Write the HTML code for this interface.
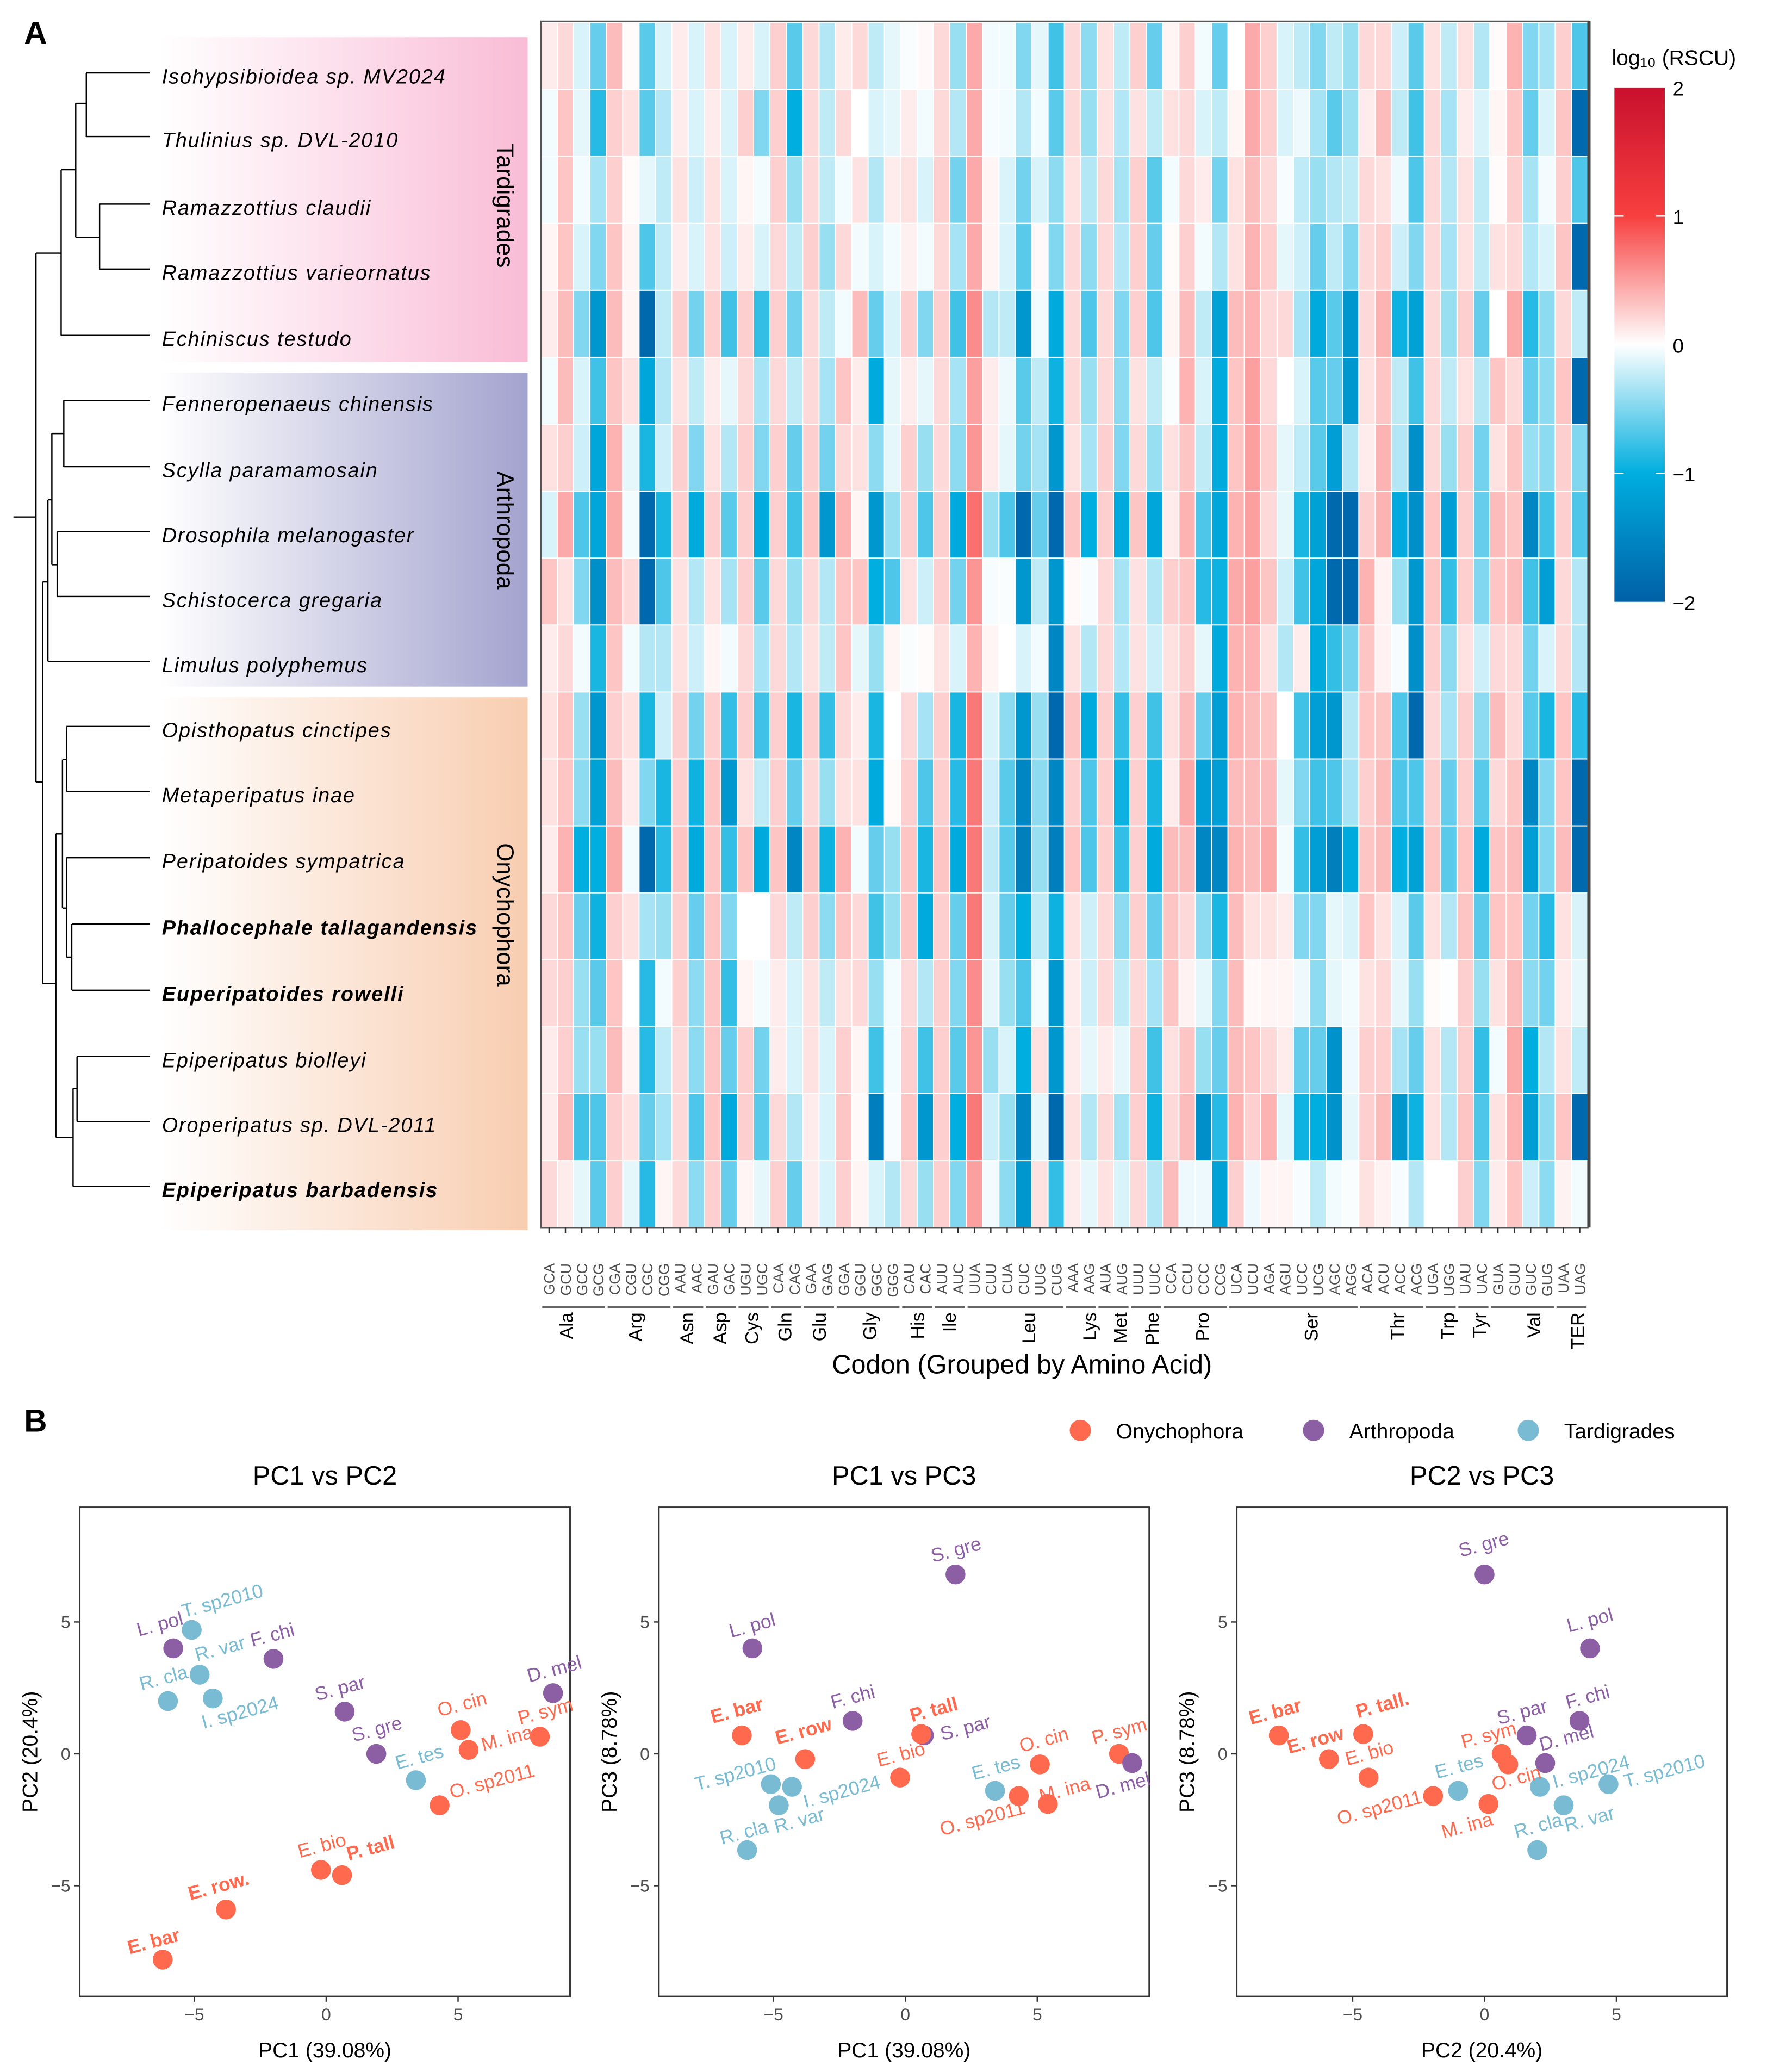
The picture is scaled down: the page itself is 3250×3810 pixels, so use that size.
<!DOCTYPE html>
<html><head><meta charset="utf-8"><title>RSCU heatmap and PCA</title>
<style>
html,body{margin:0;padding:0;background:#fff;}
svg{display:block;font-family:"Liberation Sans",Arial,sans-serif;}
</style></head>
<body>
<svg id="fig" xmlns="http://www.w3.org/2000/svg" width="3250" height="3810" viewBox="0 0 1333 1563">
<defs>
<linearGradient id="gTar" x1="0" x2="1" y1="0" y2="0"><stop offset="0" stop-color="#fbc0d8" stop-opacity="0"/><stop offset="1" stop-color="#f9bcd6"/></linearGradient>
<linearGradient id="gArt" x1="0" x2="1" y1="0" y2="0"><stop offset="0" stop-color="#a5a5d0" stop-opacity="0"/><stop offset="1" stop-color="#a3a3cf"/></linearGradient>
<linearGradient id="gOny" x1="0" x2="1" y1="0" y2="0"><stop offset="0" stop-color="#f8cdb0" stop-opacity="0"/><stop offset="1" stop-color="#f8cdb0"/></linearGradient>
<linearGradient id="gBar" x1="0" x2="0" y1="0" y2="1"><stop offset="0" stop-color="#c8102e"/><stop offset="0.25" stop-color="#f7403f"/><stop offset="0.5" stop-color="#ffffff"/><stop offset="0.75" stop-color="#00aedf"/><stop offset="1" stop-color="#0060a6"/></linearGradient>
</defs>
<text x="18" y="33" font-size="24" font-weight="bold">A</text>
<text x="18" y="1080" font-size="24" font-weight="bold">B</text>
<g id="bands"></g>
<g id="tree" stroke="#000" stroke-width="1"></g>
<g id="species"></g>
<g id="heat"></g>
<g id="xaxis"></g>
<g id="cbar"></g>
<g id="pca"></g>
</svg>
<script>
const NS="http://www.w3.org/2000/svg";
function mk(parent,tag,attrs,text){const e=document.createElementNS(NS,tag);for(const k in attrs)e.setAttribute(k,attrs[k]);if(text!==undefined)e.textContent=text;parent.appendChild(e);return e;}

// ===== Heatmap data =====
const species=["Isohypsibioidea sp. MV2024","Thulinius sp. DVL-2010","Ramazzottius claudii","Ramazzottius varieornatus","Echiniscus testudo","Fenneropenaeus chinensis","Scylla paramamosain","Drosophila melanogaster","Schistocerca gregaria","Limulus polyphemus","Opisthopatus cinctipes","Metaperipatus inae","Peripatoides sympatrica","Phallocephale tallagandensis","Euperipatoides rowelli","Epiperipatus biolleyi","Oroperipatus sp. DVL-2011","Epiperipatus barbadensis"];
const boldSpecies=[13,14,17];
const codons=["GCA","GCU","GCC","GCG","CGA","CGU","CGC","CGG","AAU","AAC","GAU","GAC","UGU","UGC","CAA","CAG","GAA","GAG","GGA","GGU","GGC","GGG","CAU","CAC","AUU","AUC","UUA","CUU","CUA","CUC","UUG","CUG","AAA","AAG","AUA","AUG","UUU","UUC","CCA","CCU","CCC","CCG","UCA","UCU","AGA","AGU","UCC","UCG","AGC","AGG","ACA","ACU","ACC","ACG","UGA","UGG","UAU","UAC","GUA","GUU","GUC","GUG","UAA","UAG"];
const aminoAcids=["Ala","Arg","Asn","Asp","Cys","Gln","Glu","Gly","His","Ile","Leu","Lys","Met","Phe","Pro","Ser","Thr","Trp","Tyr","Val","TER"];
const aaStart=[0,4,8,10,12,14,16,18,22,24,26,32,34,36,38,42,50,54,56,58,62];
const aaEnd=[3,7,9,11,13,15,17,21,23,25,31,33,35,37,41,49,53,55,57,61,63];
const aaLabelX=[427,479,518,543,567,592,618,656,692,716,776,822,845,869,907,989,1054,1092,1116,1157,1190];
// values per codon (18 species each), log10(RSCU)
const heatValues=[
[.1,-.05,-.05,.05,.1,-.05,.15,-.15,.3,.1,.15,.15,.1,.2,.2,.1,.1,.2],
[.2,.3,.3,.3,.35,.35,.25,.45,.15,.2,.3,.3,.4,.3,.25,.25,.35,.1],
[-.15,-.1,-.05,-.15,-.5,-.15,-.2,-.7,-.5,-.05,-.4,-.45,-1,-.6,-.4,-.4,-.75,-.1],
[-.6,-.85,-.35,-.5,-1.3,-.75,-1.1,-1.1,-1.4,-.9,-1.3,-1.15,-1,-.95,-.65,-.4,-.7,-.65],
[.35,.25,.25,.3,.35,.3,.4,.45,.35,.3,.25,.35,.45,.25,.3,.35,.25,.25],
[.02,.15,.02,.05,.05,.15,-.1,-.05,.2,-.05,.15,.1,-.05,.15,0,.05,.15,-.1],
[-.65,-.65,-.1,-.7,-1.9,-1.1,-.9,-1.9,-1.9,-.3,-.9,-.5,-1.9,-.35,-.85,-.85,-.6,-.85],
[-.15,-.3,-.25,-.25,-.25,-.3,-.2,-.9,-.7,-.3,-.2,-.9,-.85,-.4,-.05,-.25,-.35,.05],
[.1,.1,.15,.1,.25,.15,.25,.25,.15,.15,.25,.25,.3,.25,.25,.2,.2,.2],
[-.15,-.15,-.2,-.15,-.55,-.25,-.5,-1.05,-.3,-.2,-.55,-.95,-1.05,-.6,-.45,-.45,-.7,-.45],
[.15,.1,.15,.15,.25,.1,.15,.25,.15,.05,.25,.3,.3,.3,.3,.3,.3,.25],
[-.15,-.15,-.15,-.2,-.75,-.1,-.3,-.65,-.35,-.05,-.8,-1.3,-.8,-.5,-.8,-.6,-1.05,-.6],
[.1,.25,.05,.1,.25,.2,.25,.25,.25,.2,.25,.15,.3,0,.05,.25,.25,.05],
[-.15,-.5,-.05,-.15,-.8,-.35,-.5,-1.05,-.65,-.35,-.75,-.25,-1.05,0,-.05,-.55,-.65,-.1],
[.25,.25,.25,.2,.25,.2,.25,.25,.2,.2,.25,.25,.3,.2,.1,.1,.2,.25],
[-.65,-1,-.4,-.25,-.55,-.25,-.6,-.75,-.4,-.3,-.9,-.6,-1.5,-.25,-.15,-.15,-.3,-.6],
[.2,.2,.2,.25,.2,.2,.25,.3,.2,.15,.25,.2,.3,.25,.15,.15,.1,.1],
[-.3,-.25,-.25,-.4,-.25,-.35,-.55,-1.3,-.3,-.25,-.8,-.4,-.95,-.45,-.25,-.15,-.15,-.15],
[.1,.2,-.05,.2,-.05,.3,.2,.4,.3,.3,.2,.15,.4,.3,.15,.25,.3,.25],
[.2,0,.15,-.05,.35,.1,.15,.05,.3,-.1,.1,.15,-.05,.2,.2,.05,.03,.05],
[-.25,-.15,-.3,-.15,-.6,-1.05,-.45,-1.3,-1,-.4,-.9,-1.05,-.6,-.75,-.4,-.75,-1.6,-.15],
[-.1,-.1,.1,-.05,-.15,-.1,-.1,-.4,-.7,.05,0,.02,-.4,-.4,-.05,-.05,-.03,-.3],
[-.02,.1,.15,.08,.25,.1,.25,.25,.15,-.02,.2,.25,.3,.3,.2,.25,.3,.2],
[.03,-.05,-.15,-.05,-.5,-.1,-.4,-.7,-.2,.02,-.35,-.7,-.9,-1.05,-.3,-.75,-1.3,-.4],
[.2,.2,.25,.2,.25,.2,.2,.25,.25,.15,.25,.25,.3,.25,.25,.25,.25,.25],
[-.4,-.3,-.55,-.35,-.75,-.35,-.45,-1.05,-.55,-.15,-.9,-.85,-1.05,-.6,-.5,-.65,-1,-.5],
[.45,.45,.45,.45,.6,.5,.55,.75,.55,.4,.7,.7,.7,.7,.6,.55,.7,.5],
[-.05,-.03,.05,.05,-.3,.1,.1,-.4,-.03,.05,-.15,-.2,-.25,-.15,-.1,-.4,-.2,-.05],
[-.05,-.05,-.15,-.15,-.25,-.07,-.1,-.7,-.02,0,-.45,-.65,-.65,-.6,-.4,-.15,-.4,-.45],
[-.5,-.3,-.55,-.65,-1.3,-.65,-.55,-1.9,-1.3,-.15,-1.3,-1.5,-1.6,-1,-.7,-1,-1.5,-1.3],
[-.1,-.05,-.15,.03,-.05,-.25,-.35,-.6,-.25,-.05,-.4,-.45,-.4,-.25,-.05,.15,-.1,.15],
[-.75,-.65,-.45,-.5,-1.05,-.95,-1.3,-1.9,-1.3,-1.5,-1.9,-1.5,-1.6,-.95,-1.3,-1.3,-1.9,-.8],
[.2,.2,.15,.2,.2,.2,.15,.3,.03,.15,.3,.25,.3,.15,.1,.1,.15,.1],
[-.45,-.4,-.3,-.45,-.7,-.4,-.35,-1,-.03,-.3,-1.05,-.7,-.7,-.2,-.2,-.1,-.3,-.1],
[.15,.15,.2,.2,.2,.2,.25,.25,.2,.2,.25,.25,.25,.2,.2,.1,.2,.15],
[-.25,-.3,-.35,-.3,-.5,-.45,-.5,-1.05,-.35,-.3,-.8,-.95,-.8,-.45,-.25,-.1,-.35,-.15],
[.25,.15,.25,.25,.25,.15,.2,.3,.15,.15,.25,.25,.25,.25,.2,.25,.25,.2],
[-.6,-.25,-.65,-.6,-.7,-.25,-.4,-1.1,-.3,-.2,-.75,-.9,-1.05,-.6,-.35,-.75,-.95,-.3],
[.05,.15,-.05,.02,.05,-.02,.15,.1,.25,.15,.15,.1,.35,.3,.3,.15,.2,.35],
[.25,.2,.2,.25,.35,.4,.3,.4,.3,.25,.35,.45,.35,.2,.07,.3,.35,-.07],
[-.05,-.15,.1,-.05,-.25,-.15,-.25,-.7,-.85,-.1,-.6,-1.2,-1.5,-.45,-.1,-.4,-1.4,-.07],
[-.6,-.25,-.55,-.3,-1.15,-1.05,-1.05,-1.1,-.95,-1.05,-1.2,-1.2,-1.5,-.9,-.5,-.6,-.85,-1.15],
[0,.05,.15,.15,.35,.3,.3,.4,.45,.4,.4,.35,.4,.35,.35,.35,.4,.25],
[.45,.45,.35,.4,.4,.5,.5,.5,.5,.4,.35,.35,.35,.15,.03,.3,.25,-.07],
[.25,.25,.2,.25,.2,.2,.25,.2,.3,.15,.3,.35,.45,.15,.05,.2,.4,.05],
[-.15,-.15,-.03,-.1,.2,0,-.1,-.1,-.2,-.3,0,-.1,-.05,.1,.05,.1,-.1,.05],
[-.25,-.07,-.25,-.2,-.35,-.15,-.25,-.9,-.75,.1,-.75,-.5,-.8,-.5,-.07,-.6,-.95,-.03],
[-.5,-.35,-.4,-.6,-1.05,-.65,-.65,-1.15,-1.1,-1.05,-1.2,-.75,-1.2,-.5,-.45,-.6,-1,-.25],
[-.25,-.65,-.3,-.25,-.65,-.6,-1.2,-1.9,-1.9,-.8,-1.3,-.7,-1.6,-.1,-.1,-1.35,-1.35,-.05],
[-.4,-.4,-.25,-.5,-1.3,-1.3,-.3,-1.9,-1.9,-.55,-.3,-.35,-1.05,-.15,-.05,-.07,-.1,-.02],
[.2,.1,.2,.2,.2,.15,.1,.25,.4,.3,.3,.25,.3,.3,.15,.25,.25,.15],
[.2,.35,.15,.25,.4,.3,.4,.4,.07,.07,.3,.35,.35,.15,.2,.25,.35,.07],
[-.2,-.25,-.07,-.2,-.95,-.25,-.3,-1.05,-.4,-.03,-.7,-.7,-1,-.15,-.1,-.35,-1.3,-.03],
[-.65,-.75,-.7,-.5,-1.15,-.75,-1.4,-1.4,-1.3,-1.4,-1.9,-.7,-1.15,-.65,-.4,-.6,-.95,-.3],
[.15,.2,.2,.2,.2,.2,.2,.3,.3,.25,.2,.25,.3,.15,.02,.15,.15,0],
[-.25,-.35,-.3,-.35,-.4,-.25,-.4,-1.2,-.8,-.45,-.35,-.6,-.65,-.3,-.01,-.3,-.3,0],
[.15,.1,.15,.15,.25,.15,.25,.25,.25,.15,.25,.25,.3,.3,.25,.25,.3,.25],
[-.3,-.15,-.25,-.25,-.6,-.3,-.55,-.6,-.5,-.2,-.45,-.65,-1.05,-.65,-.4,-.8,-.7,-.5],
[.02,.05,.02,.15,0,.3,.15,.35,.3,.2,.35,.2,.3,.3,.15,-.05,.15,.1],
[.4,.3,.25,.2,.45,.2,.3,.3,.35,.2,.2,.3,.35,.3,.35,.45,.4,.3],
[-.5,-.6,-.35,-.3,-.85,-.6,-.4,-1.5,-.75,-.55,-.65,-1.5,-1.2,-.55,-.45,-1,-1.2,-.2],
[-.35,-.15,-.05,-.15,-.45,-.45,-.45,-.75,-1.2,-.15,-.9,-.5,-.5,-.85,-.55,-.3,-.45,-.45],
[.25,.3,.25,.3,.2,.3,.25,.25,.2,.2,.3,.3,.35,.15,.1,.15,.3,.07],
[-.7,-1.9,-.7,-1.9,-.25,-1.9,-.5,-.7,-.3,-.3,-.85,-1.9,-1.9,-.15,-.1,-.25,-1.9,-.05]
];
const cbarTicks=[2,1,0,-1,-2];
const cbarTickLabels=["2","1","0","\u22121","\u22122"];

// ===== PCA data =====
const pcaNames=["L. pol","T. sp2010","R. var","F. chi","R. cla","I. sp2024","S. par","S. gre","E. tes","O. cin","M. ina","P. sym","D. mel","O. sp2011","E. bio","P. tall","E. row","E. bar"];
const pcaGroups=["Arthropoda","Tardigrades","Tardigrades","Arthropoda","Tardigrades","Tardigrades","Arthropoda","Arthropoda","Tardigrades","Onychophora","Onychophora","Onychophora","Arthropoda","Onychophora","Onychophora","Onychophora","Onychophora","Onychophora"];
const pcaBold=[0,0,0,0,0,0,0,0,0,0,0,0,0,0,0,1,1,1];
const pc1=[-5.8,-5.1,-4.8,-2.0,-6.0,-4.3,0.7,1.9,3.4,5.1,5.4,8.1,8.6,4.3,-0.2,0.6,-3.8,-6.2];
const pc2=[4.0,4.7,3.0,3.6,2.0,2.1,1.6,0.0,-1.0,0.9,0.15,0.65,2.3,-1.95,-4.4,-4.6,-5.9,-7.8];
const pc3=[4.0,-1.15,-1.95,1.25,-3.65,-1.25,0.7,6.8,-1.4,-0.4,-1.9,0.0,-0.35,-1.6,-0.9,0.75,-0.2,0.7];
const axisTicks=[-5,0,5];
const groupNames=["Onychophora","Arthropoda","Tardigrades"];
const groupColors={Onychophora:"#ff6a4f",Arthropoda:"#8c5fa5",Tardigrades:"#79bbd2"};

const svg=document.getElementById('fig');

// ===== Group bands =====
const bands=document.getElementById('bands');
const bandDefs=[["Tardigrades",28,273,"url(#gTar)",155],["Arthropoda",281,518,"url(#gArt)",400],["Onychophora",526,928,"url(#gOny)",690]];
bandDefs.forEach(b=>{
  const r=mk(bands,'rect',{x:120,y:b[1],width:278,height:b[2]-b[1],fill:b[3]});
  
  
  const t=mk(bands,'text',{x:0,y:0,'font-size':18,'text-anchor':'middle',transform:`translate(375,${b[4]}) rotate(90)`},b[0]);
  
  
});

// ===== Dendrogram =====
const tree=document.getElementById('tree');
const segs=[[10,390,27,390],[27,191,27,590],[27,191,46,191],[46,128,46,253],[46,253,113,253],[46,128,57,128],[57,78,57,179],[57,78,65,78],[65,55,65,103],[65,55,113,55],[65,103,113,103],[57,179,75,179],[75,154,75,203],[75,154,113,154],[75,203,113,203],
[27,590,32,590],[32,439,32,742],[32,439,36,439],[36,377,36,499],[36,499,113,499],[36,377,39,377],[39,327,39,426],[39,327,48,327],[48,302,48,352],[48,302,113,302],[48,352,113,352],[39,426,43,426],[43,401,43,450],[43,401,113,401],[43,450,113,450],
[32,742,42,742],[42,629,42,858],[42,629,47,629],[47,573,47,685],[47,573,50,573],[50,548,50,597],[50,548,113,548],[50,597,113,597],[47,685,50,685],[50,647,50,722],[50,647,113,647],[50,722,54,722],[54,697,54,747],[54,697,113,697],[54,747,113,747],
[42,858,55,858],[55,821,55,895],[55,895,113,895],[55,821,58,821],[58,797,58,846],[58,797,113,797],[58,846,113,846]];
segs.forEach(s=>{const l=mk(tree,'line',{x1:s[0],y1:s[1],x2:s[2],y2:s[3]});
  
  });
const tipY=[55,103,154,203,253,302,352,401,450,499,548,597,647,697,747,797,846,895];
const spG=document.getElementById('species');
species.forEach((s,i)=>{
  const t=mk(spG,'text',{x:122,y:tipY[i]+8,'font-size':15.5,'letter-spacing':0.8,'font-style':'italic','font-weight':boldSpecies.includes(i)?'bold':'normal'},s);
  
  
});

// ===== Heatmap =====
const HX0=408,HX1=1198,HY0=17,HY1=926;
const cw=(HX1-HX0)/codons.length, rh=(HY1-HY0)/species.length;
const xCol=i=>HX0+i*cw, yRow=j=>HY0+j*rh;
const stops=[[-2,[0,96,166]],[-1,[0,174,223]],[0,[255,255,255]],[1,[247,64,63]],[2,[200,16,46]]];
function colorOf(v){v=Math.max(-2,Math.min(2,v));for(let k=0;k<stops.length-1;k++){const a=stops[k],b=stops[k+1];if(v<=b[0]){const t=(v-a[0])/(b[0]-a[0]);const c=a[1].map((x,i)=>Math.round(x+(b[1][i]-x)*t));return `rgb(${c[0]},${c[1]},${c[2]})`;}}return 'rgb(200,16,46)';}
const heat=document.getElementById('heat');
heatValues.forEach((col,i)=>{col.forEach((v,j)=>{
  const r=mk(heat,'rect',{x:xCol(i),y:yRow(j),width:cw,height:rh,fill:colorOf(v),stroke:'#fff','stroke-width':0.8});
  
  
});});
const border=mk(heat,'rect',{x:HX0,y:HY0-1,width:HX1-HX0,height:HY1-HY0+1,fill:'none',stroke:'#555','stroke-width':1});


const rb=mk(heat,'line',{x1:HX1+1,y1:HY0-1,x2:HX1+1,y2:HY1,stroke:'#444','stroke-width':2});



// x axis
const xa=document.getElementById('xaxis');
codons.forEach((c,i)=>{
  const cx=xCol(i)+cw/2;
  const tk=mk(xa,'line',{x1:cx,y1:HY1,x2:cx,y2:HY1+4,stroke:'#333','stroke-width':1});
  
  
  const t=mk(xa,'text',{x:0,y:0,'font-size':11,fill:'#4d4d4d','text-anchor':'end',transform:`translate(${cx+4},953) rotate(-90)`},c);
  
  
});
aminoAcids.forEach((a,k)=>{
  const ln=mk(xa,'line',{x1:xCol(aaStart[k])+1,y1:986,x2:xCol(aaEnd[k]+1)-1,y2:986,stroke:'#333','stroke-width':1});
  
  
  const t=mk(xa,'text',{x:0,y:0,'font-size':14,'text-anchor':'end',transform:`translate(${aaLabelX[k]+5},990) rotate(-90)`},a);
  
  
});
const xt=mk(xa,'text',{x:771,y:1036,'font-size':20,'text-anchor':'middle'},'Codon (Grouped by Amino Acid)');



// colorbar
const cb=document.getElementById('cbar');
const CBY0=66,CBY1=454;
const cbY=v=>CBY0+(2-v)/4*(CBY1-CBY0);
const ct=mk(cb,'text',{x:1216,y:49,'font-size':16},'log\u2081\u2080 (RSCU)');


const cr=mk(cb,'rect',{x:1218,y:CBY0,width:38,height:CBY1-CBY0,fill:'url(#gBar)'});


cbarTicks.forEach((v,k)=>{
  const y=cbY(v);
  if(k>0&&k<cbarTicks.length-1){
    const a=mk(cb,'line',{x1:1218,y1:y,x2:1225,y2:y,stroke:'#fff','stroke-width':1});
    
    
    const b=mk(cb,'line',{x1:1249,y1:y,x2:1256,y2:y,stroke:'#fff','stroke-width':1});
    
    
  }
  const t=mk(cb,'text',{x:1262,y:y+6,'font-size':15},cbarTickLabels[k]);
  
  
});

// ===== PCA panels =====
const pg=document.getElementById('pca');
const legX=[815,991,1153];
groupNames.forEach((g,k)=>{
  const c=mk(pg,'circle',{cx:legX[k],cy:1079,r:8,fill:groupColors[g]});
  
  
  const t=mk(pg,'text',{x:legX[k]+27,y:1085,'font-size':16},g);
  
  
});
const panels=[
 {title:'PC1 vs PC2',xs:pc1,ys:pc2,xl:'PC1 (39.08%)',yl:'PC2 (20.4%)',left:60,x0:246,
  off:[[-26,-9],[-6,-9],[-2,-10],[-16,-9],[-20,-8],[-7,23],[-21,-8],[-17,-9],[-14,-8],[-16,-10],[11,1],[-15,-9],[-18,-8],[9,-5],[-16,-9],[5,-11],[-27,-7],[-25,-4]],
  names:pcaNames.map((n,i)=>i===16?'E. row.':n)},
 {title:'PC1 vs PC3',xs:pc1,ys:pc3,xl:'PC1 (39.08%)',yl:'PC3 (8.78%)',left:497,x0:683,
  off:[[-16,-8],[-56,5],[-2,21],[-15,-9],[-19,-4],[10,16],[14,4],[-17,-9],[-16,-8],[-14,-9],[-5,-1],[-19,-7],[-26,27],[-58,30],[-16,-8],[-7,-9],[-21,-11],[-22,-9]],
  names:pcaNames},
 {title:'PC2 vs PC3',xs:pc2,ys:pc3,xl:'PC2 (20.4%)',yl:'PC3 (8.78%)',left:933,x0:1120,
  off:[[-16,-12],[13,3],[2,20],[-9,-9],[-16,-9],[11,1],[-21,-8],[-18,-13],[-16,-9],[-11,20],[-34,26],[-29,-4],[-3,-9],[-71,22],[-16,-9],[-4,-12],[-30,-4],[-21,-8]],
  names:pcaNames.map((n,i)=>i===15?'P. tall.':n)}
];
const PY0=1137,PY1=1506,PW=370,Y0=1323,UNIT=19.9;
panels.forEach((p,pi)=>{
  const sx=v=>p.x0+v*UNIT, sy=v=>Y0-v*UNIT;
  const g=mk(pg,'g',{});
  
  
  const fr=mk(g,'rect',{x:p.left,y:PY0,width:PW,height:PY1-PY0,fill:'#fff',stroke:'#333','stroke-width':1.2});
  
  
  const tt=mk(g,'text',{x:p.left+PW/2,y:1120,'font-size':20,'text-anchor':'middle'},p.title);
  
  
  axisTicks.forEach(v=>{
    const a=mk(g,'line',{x1:sx(v),y1:PY1,x2:sx(v),y2:PY1+4,stroke:'#333'});
    
    
    const at=mk(g,'text',{x:sx(v),y:PY1+18,'font-size':13,fill:'#4d4d4d','text-anchor':'middle'},v<0?'\u2212'+(-v):String(v));
    
    
    const b=mk(g,'line',{x1:p.left-4,y1:sy(v),x2:p.left,y2:sy(v),stroke:'#333'});
    
    
    const bt=mk(g,'text',{x:p.left-7,y:sy(v)+4.5,'font-size':13,fill:'#4d4d4d','text-anchor':'end'},v<0?'\u2212'+(-v):String(v));
    
    
  });
  const xt2=mk(g,'text',{x:p.left+PW/2,y:1552,'font-size':16,'text-anchor':'middle'},p.xl);
  
  
  const yt2=mk(g,'text',{x:0,y:0,'font-size':16,'text-anchor':'middle',transform:`translate(${p.left-32},${(PY0+PY1)/2}) rotate(-90)`},p.yl);
  
  
  p.xs.forEach((xv,i)=>{
    const cx=sx(xv), cy=sy(p.ys[i]);
    const c=mk(g,'circle',{cx:cx,cy:cy,r:7.5,fill:groupColors[pcaGroups[i]]});
    
    
  });
  p.xs.forEach((xv,i)=>{
    const cx=sx(xv), cy=sy(p.ys[i]);
    const lx=cx+p.off[i][0], ly=cy+p.off[i][1];
    const t=mk(g,'text',{x:0,y:0,'font-size':14.5,fill:groupColors[pcaGroups[i]],'font-weight':pcaBold[i]?'bold':'normal',transform:`translate(${lx},${ly}) rotate(-15)`},p.names[i]);
    
    
  });
});
</script>
</body></html>
